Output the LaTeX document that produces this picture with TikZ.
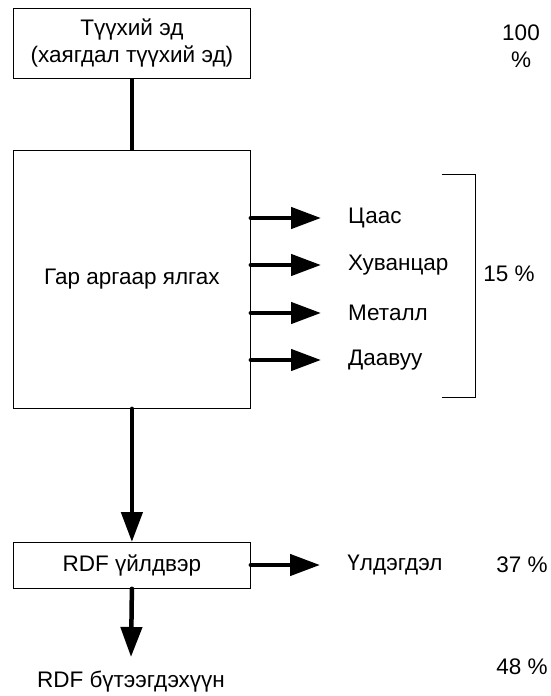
\documentclass[tikz,border=0pt]{standalone}
\usepackage{fontspec}
\setmainfont{Liberation Sans}
\usetikzlibrary{arrows.meta}
\begin{document}
\begin{tikzpicture}[x=1pt,y=-1pt,
  every node/.style={font=\fontsize{22.5}{27}\selectfont, inner sep=0pt},
  boxx/.style={draw, line width=0.8pt, minimum width=237pt, anchor=north west},
  flow/.style={line width=4.5pt, line cap=round, -{Triangle[length=30pt,width=21pt]}},
  conn/.style={line width=4.5pt}]
\useasboundingbox[fill=white] (0,0) rectangle (550,696);
\node[boxx, minimum height=70pt, align=center] (top) at (13,8) {Түүхий эд\\(хаягдал түүхий эд)};
\node[boxx, minimum height=258pt] (main) at (13,150) {};
\node (mainlbl) at (main.center) {Гар аргаар ялгах};
\node[boxx, minimum height=46pt] (rdf) at (13,542) {RDF үйлдвэр};
\node[anchor=west] (p1) at (348,218) {Цаас};
\node[anchor=west] (p2) at (348,265) {Хуванцар};
\node[anchor=west] (p3) at (348,313) {Металл};
\node[anchor=west] (p4) at (348,360) {Даавуу};
\node (pct15) at (509,274) {15 \%};
\node[align=center] (pct100) at (521,46) {100\\\%};
\node (rest) at (395,565) {Үлдэгдэл};
\node (pct37) at (522,565) {37 \%};
\node (prod) at (131,682) {RDF бүтээгдэхүүн};
\node (pct48) at (522,667) {48 \%};
\coordinate (a1) at (321,218);
\coordinate (a2) at (321,265);
\coordinate (a3) at (321,313);
\coordinate (a4) at (321,360);
\draw[conn] (top.south) -- (main.north);
\draw[flow] (main.east |- a1) -- (a1);
\draw[flow] (main.east |- a2) -- (a2);
\draw[flow] (main.east |- a3) -- (a3);
\draw[flow] (main.east |- a4) -- (a4);
\draw[flow] (main.south) -- (rdf.north);
\coordinate (r1) at (320,565);
\draw[flow] (rdf.east |- r1) -- (r1);
\coordinate (b1) at (131,657);
\draw[flow] (rdf.south) -- (b1);
\coordinate (bt) at (475,174);
\coordinate (bb) at (475,397);
\draw[line width=0.8pt] (442,174) -- (bt) -- (bb) -- (442,397);
\end{tikzpicture}
\end{document}
